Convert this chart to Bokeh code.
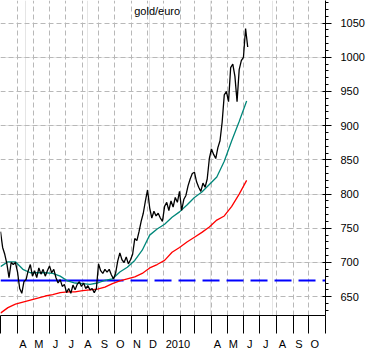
import pandas as pd
from bokeh.plotting import figure
from bokeh.models import Range1d, LinearAxis, FixedTicker, Label, Grid
from bokeh.embed import file_html
from bokeh.resources import INLINE

# ---------------- data ----------------
title_text = "gold/euro"
x_start = "2009-03-01"
x_end = "2010-11-01"

# gold priced in euro, sampled every 4 days from x_start
price_step_days = 4
price = [745, 722, 712, 698, 678, 700, 697, 700, 686, 662,
         655, 672, 675, 688, 697, 680, 688, 678, 692, 683,
         690, 680, 688, 695, 685, 690, 678, 670, 675, 665,
         668, 656, 662, 655, 667, 660, 668, 672, 665, 670,
         662, 666, 660, 662, 656, 662, 698, 688, 684, 690,
         686, 690, 682, 676, 684, 702, 714, 704, 700, 708,
         698, 704, 712, 735, 732, 745, 760, 772, 790, 806,
         780, 765, 775, 768, 772, 765, 760, 782, 788, 776,
         790, 781, 795, 788, 804, 776, 792, 798, 812, 822,
         830, 832, 818, 810, 804, 816, 810, 822, 852, 866,
         858, 852, 868, 878, 905, 945, 950, 935, 985, 990,
         972, 935, 982, 995, 1000, 1042, 1015]

# moving averages, sampled every 14 days from x_start
ma_step_days = 14
ma50 = [694, 701, 701, 690, 685, 685, 685, 684, 680, 673,
        670, 669, 668, 670, 674, 676, 686, 693, 703, 718,
        740, 749, 756, 766, 774, 784, 795, 803, 814, 825,
        848, 878, 906, 936]
ma200 = [626, 634, 639, 642, 645, 648, 651, 653, 656, 657,
         657, 659, 660, 661, 664, 669, 673, 676, 679, 684,
         692, 697, 703, 715, 722, 730, 737, 744, 752, 762,
         768, 782, 800, 820]

support_level = 673.5
support_solid_end = "2009-09-16"

month_labels = ["", "A", "M", "J", "J", "A", "S", "O", "N", "D",
                "2010", "", "", "A", "M", "J", "J", "A", "S", "O"]
y_ticks = [650, 700, 750, 800, 850, 900, 950, 1000, 1050]
y_minor = list(range(630, 1081, 10))

# ---------------- build ----------------
def ms(d):
    return int(pd.Timestamp(d).value // 10**6)

price_dates = pd.date_range(x_start, periods=len(price), freq=f"{price_step_days}D")
ma_dates = pd.date_range(x_start, periods=len(ma50), freq=f"{ma_step_days}D")
month_starts = pd.date_range(x_start, periods=len(month_labels), freq="MS")
sep_ticks = [ms(d) for d in month_starts] + [ms(x_end)]

DAY = 86400000
label_ticks, label_over = [], {}
for d, lab in zip(month_starts, month_labels):
    if not lab:
        continue
    off = 27 if len(lab) > 1 else 11
    t = ms(d) + off * DAY
    label_ticks.append(t)
    label_over[t] = lab

Y_LO, Y_HI = 622.5, 1083
p = figure(width=371, height=352, output_backend="svg", toolbar_location=None,
           x_range=Range1d(ms(x_start), ms(x_end)), y_range=Range1d(Y_LO, Y_HI),
           x_axis_location=None, y_axis_location=None,
           min_border_left=0, min_border_top=0, min_border_right=46, min_border_bottom=17,
           outline_line_color=None, background_fill_color="white", border_fill_color="white")

FONT = "Liberation Sans"
grid_color = "#b8b8b8"
vgrid = Grid(dimension=0, ticker=FixedTicker(ticks=sep_ticks), grid_line_color=grid_color,
             grid_line_dash="5 3", grid_line_width=1)
hgrid = Grid(dimension=1, ticker=FixedTicker(ticks=y_ticks), grid_line_color=grid_color,
             grid_line_dash="5 3", grid_line_width=1)
p.add_layout(vgrid)
p.add_layout(hgrid)

ya = LinearAxis(ticker=FixedTicker(ticks=y_ticks, minor_ticks=y_minor))
ya.axis_line_color = "black"
ya.major_tick_line_color = "black"
ya.minor_tick_line_color = "black"
ya.major_tick_in = 3
ya.major_tick_out = 6
ya.minor_tick_in = 0
ya.minor_tick_out = 3
ya.major_label_standoff = 9
ya.major_label_text_font = FONT
ya.major_label_text_font_size = "11px"
ya.major_label_text_color = "black"
p.add_layout(ya, "right")

xa = LinearAxis(ticker=FixedTicker(ticks=label_ticks, minor_ticks=sep_ticks))
xa.major_label_overrides = label_over
xa.axis_line_color = "black"
xa.major_tick_in = 0
xa.major_tick_out = 0
xa.minor_tick_in = 0
xa.minor_tick_out = 18
xa.minor_tick_line_color = "black"
xa.major_label_standoff = 4
xa.major_label_text_font = FONT
xa.major_label_text_font_size = "11px"
xa.major_label_text_color = "black"
p.add_layout(xa, "below")

p.line([pd.Timestamp(x_start), pd.Timestamp(support_solid_end)], [support_level, support_level],
       line_color="#0000ff", line_width=2)
p.line([pd.Timestamp(support_solid_end), pd.Timestamp(x_end)], [support_level, support_level],
       line_color="#0000ff", line_width=2, line_dash="17 7")
p.line(ma_dates, ma200, line_color="#ff0000", line_width=1.3)
p.line(ma_dates, ma50, line_color="#00877a", line_width=1.3)
p.line(price_dates, price, line_color="black", line_width=1.3)

# title placed inside the frame, near the top centre
title_x = (ms(x_start) + ms(x_end)) / 2 - 11 * DAY
title_y = Y_HI - (Y_HI - Y_LO) * 0.032
p.add_layout(Label(x=title_x, y=title_y, text=title_text,
                   text_align="center", text_baseline="middle", text_font=FONT,
                   text_font_size="11px", text_color="black"))

open("out.html", "w").write(file_html(p, INLINE))
